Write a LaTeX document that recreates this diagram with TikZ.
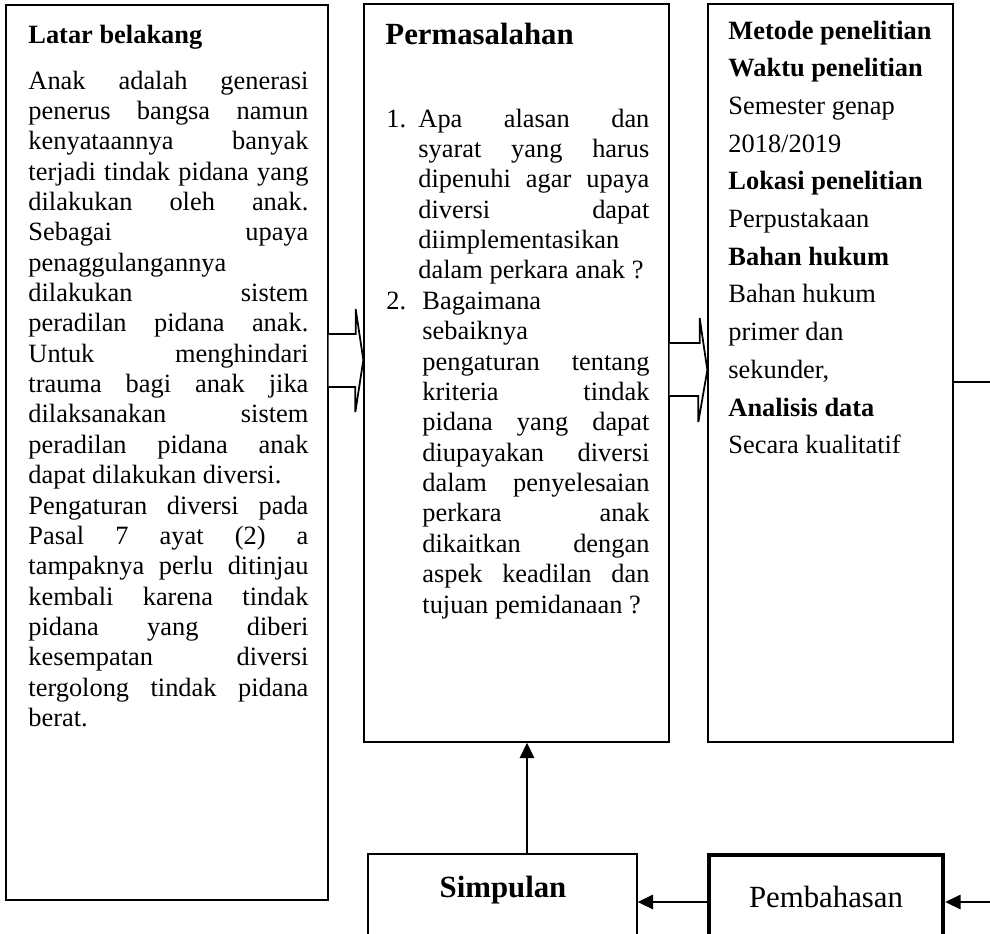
\documentclass[tikz,border=0pt]{standalone}
\usepackage{fontspec}
\setmainfont{Liberation Serif}
\usetikzlibrary{arrows.meta,fit,calc}
\newcommand\jlin[1]{\hbox to\hsize{\spaceskip=.25em plus 1fil\relax#1}}
\newcommand\llin[1]{\hbox to\hsize{#1\hfil}}
\begin{document}
\begin{tikzpicture}[x=0.454545pt,y=-0.454545pt,
  box/.style={draw=black, line width=0.6pt, inner sep=0pt},
  thickbox/.style={draw=black, line width=2pt, inner sep=0pt},
  txt/.style={inner sep=0pt, font=\fontsize{12pt}{13.8pt}\selectfont},
  head/.style={inner sep=0pt, font=\fontsize{12pt}{13.8pt}\selectfont\bfseries},
  bighead/.style={inner sep=0pt, font=\fontsize{14pt}{16pt}\selectfont\bfseries},
  bigtxt/.style={inner sep=0pt, font=\fontsize{14pt}{16pt}\selectfont},
  arr/.style={line width=0.9pt, -{Triangle[length=7pt,width=6.5pt]}},
  blockarr/.style={draw=black, fill=white, line width=0.8pt, line join=miter}]
\useasboundingbox (0,0) rectangle (990,933);

% boxes
\node[box, fit={(6,5) (328,900)}] (lb) {};
\node[box, fit={(364,4) (669,742)}] (perm) {};
\node[box, fit={(708,4) (953,742)}] (met) {};
\node[box, fit={(368,854) (637,950)}] (simp) {};
\node[thickbox, fit={(709,855) (943,949)}] (pemb) {};

% Latar belakang
\node[head, anchor=base west] (lbhead) at (28,43) {Latar belakang};
\node[txt, anchor=base west] (lbtext) at (28,89) {\vtop{\hsize=127.27pt\frenchspacing
\jlin{Anak adalah generasi}
\jlin{penerus bangsa namun}
\jlin{kenyataannya banyak}
\jlin{terjadi tindak pidana yang}
\jlin{dilakukan oleh anak.}
\jlin{Sebagai upaya}
\llin{penaggulangannya}
\jlin{dilakukan sistem}
\jlin{peradilan pidana anak.}
\jlin{Untuk menghindari}
\jlin{trauma bagi anak jika}
\jlin{dilaksanakan sistem}
\jlin{peradilan pidana anak}
\llin{dapat dilakukan diversi.}
\jlin{Pengaturan diversi pada}
\jlin{Pasal 7 ayat (2) a}
\jlin{tampaknya perlu ditinjau}
\jlin{kembali karena tindak}
\jlin{pidana yang diberi}
\jlin{kesempatan diversi}
\jlin{tergolong tindak pidana}
\llin{berat.}}};

% Permasalahan
\node[bighead, anchor=base west] (permhead) at (385,44) {Permasalahan};
\node[txt, anchor=base west] (num1) at (386,127) {1.};
\node[txt, anchor=base west] (item1) at (418,127) {\vtop{\hsize=105pt\frenchspacing
\jlin{Apa alasan dan}
\jlin{syarat yang harus}
\jlin{dipenuhi agar upaya}
\jlin{diversi dapat}
\llin{diimplementasikan}
\llin{dalam perkara anak ?}}};
\node[txt, anchor=base west] (num2) at (386,309.4) {2.};
\node[txt, anchor=base west] (item2) at (422,309.4) {\vtop{\hsize=103.2pt\frenchspacing
\llin{Bagaimana}
\llin{sebaiknya}
\jlin{pengaturan tentang}
\jlin{kriteria tindak}
\jlin{pidana yang dapat}
\jlin{diupayakan diversi}
\jlin{dalam penyelesaian}
\jlin{perkara anak}
\jlin{dikaitkan dengan}
\jlin{aspek keadilan dan}
\llin{tujuan pemidanaan ?}}};

% Metode penelitian
\node[txt, anchor=base west] (mettext) at (728,39) {\vtop{\hsize=100pt\baselineskip=17.14pt
\llin{\bfseries Metode penelitian}
\llin{\bfseries Waktu penelitian}
\llin{Semester genap}
\llin{2018/2019}
\llin{\bfseries Lokasi penelitian}
\llin{Perpustakaan}
\llin{\bfseries Bahan hukum}
\llin{Bahan hukum}
\llin{primer dan}
\llin{sekunder,}
\llin{\bfseries Analisis data}
\llin{Secara kualitatif}}};

% bottom boxes text
\node[bighead, anchor=base] (simptext) at (503,897) {Simpulan};
\node[bigtxt, anchor=base] (pembtext) at (826,907) {Pembahasan};

% block arrows
\draw[blockarr] (lb.east |- 0,334) -- ++(27,0) -- ++(0,-25) -- (perm.west |- 0,360)
  -- ++(-8,52) -- ++(0,-25) -- (lb.east |- 0,387);
\draw[blockarr] (perm.east |- 0,343) -- ++(30,0) -- ++(0,-25) -- (met.west |- 0,370)
  -- ++(-9,52) -- ++(0,-26) -- (perm.east |- 0,396);

% connectors
\coordinate (ax) at (527,0);
\coordinate (rx) at (1005,0);
\draw[arr] (simp.north -| ax) -- (perm.south -| ax);
\draw[arr] (pemb.west) -- (simp.east);
\draw[arr] (met.east |- 0,382) -- (rx |- 0,382) |- (pemb.east);
\end{tikzpicture}
\end{document}
